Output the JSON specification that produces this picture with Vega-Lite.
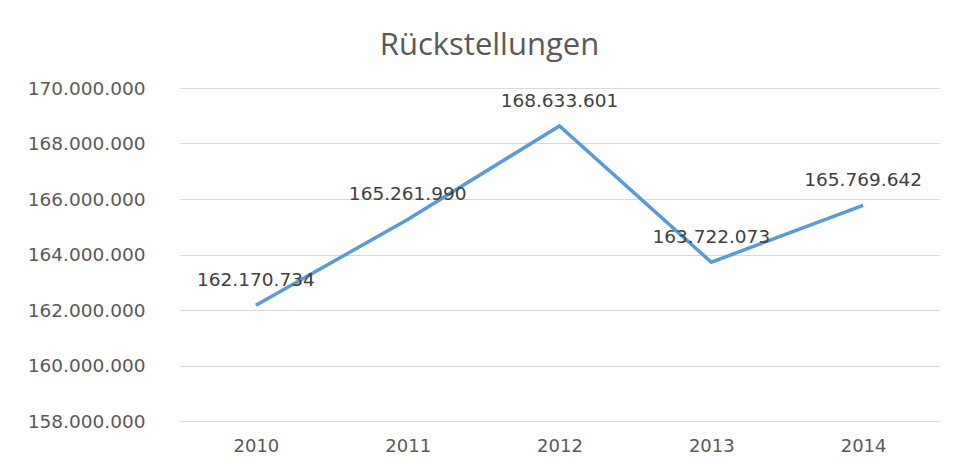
{
  "$schema": "https://vega.github.io/schema/vega-lite/v6.json",
  "width": 759,
  "height": 333,
  "autosize": {"type": "none"},
  "padding": {"left": 180, "top": 88, "right": 19, "bottom": 47},
  "background": "white",
  "title": {
    "text": "Rückstellungen",
    "font": "Open Sans",
    "fontSize": 31,
    "fontWeight": "normal",
    "color": "#595959",
    "anchor": "middle",
    "dx": -70,
    "offset": 17
  },
  "data": {
    "values": [
      {"year": "2010", "value": 162170734},
      {"year": "2011", "value": 165261990},
      {"year": "2012", "value": 168633601},
      {"year": "2013", "value": 163722073},
      {"year": "2014", "value": 165769642}
    ]
  },
  "encoding": {
    "x": {
      "field": "year",
      "type": "ordinal",
      "scale": {"type": "point", "padding": 0.5},
      "axis": {
        "title": null,
        "labelAngle": 0,
        "domain": false,
        "ticks": false,
        "labelFont": "DejaVu Sans",
        "labelFontSize": 18,
        "labelColor": "#595959",
        "labelPadding": 16
      }
    },
    "y": {
      "field": "value",
      "type": "quantitative",
      "scale": {"domain": [158000000, 170000000], "nice": false, "zero": false},
      "axis": {
        "title": null,
        "values": [158000000, 160000000, 162000000, 164000000, 166000000, 168000000, 170000000],
        "format": ",d",
        "domain": false,
        "ticks": false,
        "grid": true,
        "gridColor": "#d9d9d9",
        "gridWidth": 1,
        "labelFont": "DejaVu Sans",
        "labelFontSize": 18.5,
        "labelColor": "#595959",
        "labelPadding": 35
      }
    }
  },
  "layer": [
    {
      "mark": {"type": "line", "color": "#5B9BD5", "strokeWidth": 3.5}
    },
    {
      "mark": {
        "type": "text",
        "dy": -25,
        "font": "DejaVu Sans",
        "fontSize": 18.5,
        "color": "#404040",
        "align": "center",
        "baseline": "middle"
      },
      "encoding": {
        "text": {"field": "value", "type": "quantitative", "format": ",d"}
      }
    }
  ],
  "config": {
    "view": {"stroke": null},
    "locale": {
      "number": {"decimal": ",", "thousands": ".", "grouping": [3], "currency": ["", " €"]}
    }
  }
}
